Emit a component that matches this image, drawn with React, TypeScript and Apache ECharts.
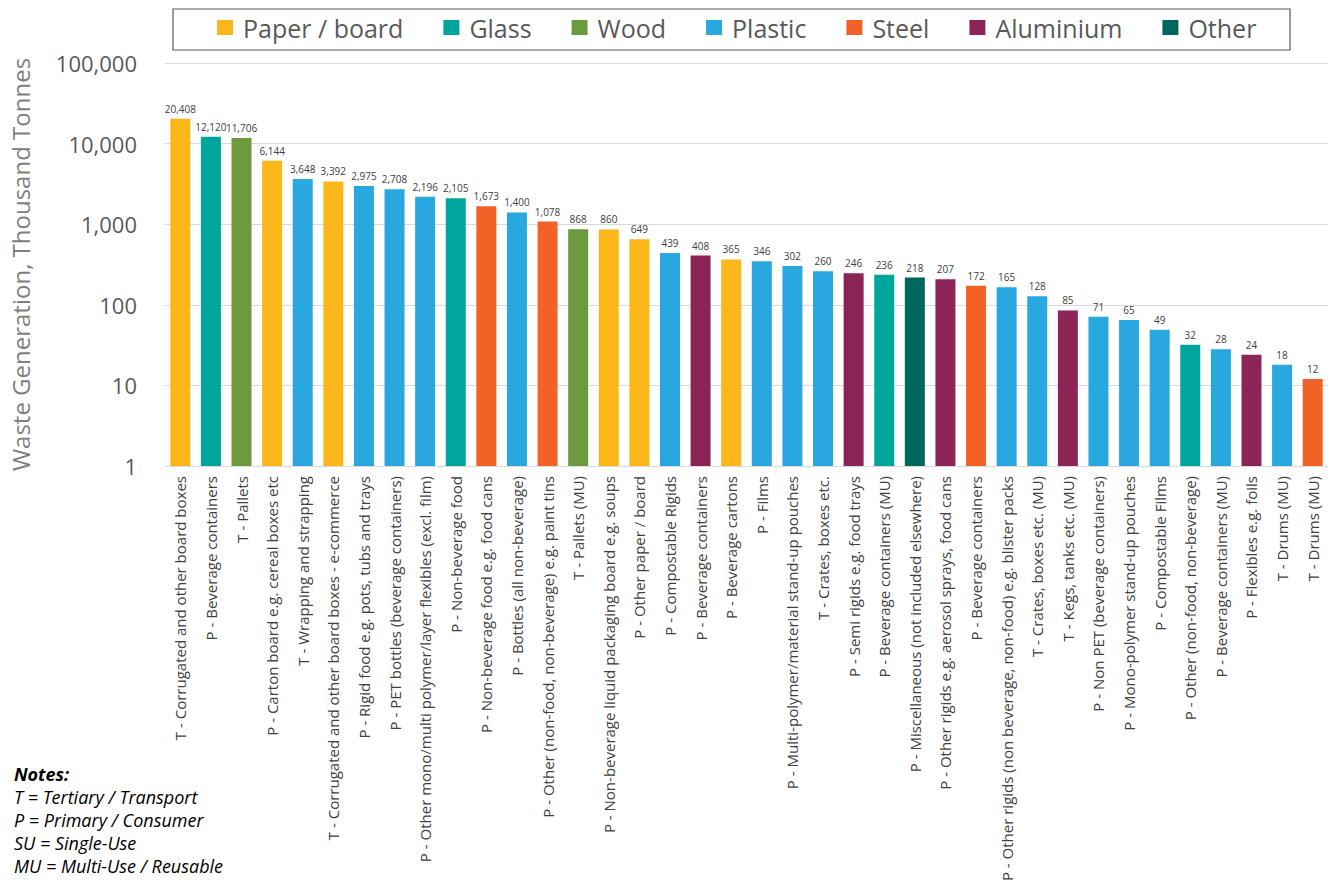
import React, { useEffect, useRef } from "react";
import * as echarts from "echarts";

const categories: string[] = [
  "T - Corrugated and other board boxes",
  "P - Beverage containers",
  "T - Pallets",
  "P - Carton board e.g. cereal boxes etc",
  "T - Wrapping and strapping",
  "T - Corrugated and other board boxes - e-commerce",
  "P - Rigid food e.g. pots, tubs and trays",
  "P - PET bottles (beverage containers)",
  "P - Other mono/multi polymer/layer flexibles (excl. film)",
  "P - Non-beverage food",
  "P - Non-beverage food e.g. food cans",
  "P - Bottles (all non-beverage)",
  "P - Other (non-food, non-beverage) e.g. paint tins",
  "T - Pallets (MU)",
  "P - Non-beverage liquid packaging board e.g. soups",
  "P - Other paper / board",
  "P - Compostable Rigids",
  "P - Beverage containers",
  "P - Beverage cartons",
  "P - Films",
  "P - Multi-polymer/material stand-up pouches",
  "T - Crates, boxes etc.",
  "P - Semi rigids e.g. food trays",
  "P - Beverage containers (MU)",
  "P - Miscellaneous (not included elsewhere)",
  "P - Other rigids e.g. aerosol sprays, food cans",
  "P - Beverage containers",
  "P - Other rigids (non beverage, non-food) e.g. blister packs",
  "T - Crates, boxes etc. (MU)",
  "T - Kegs, tanks etc. (MU)",
  "P - Non PET (beverage containers)",
  "P - Mono-polymer stand-up pouches",
  "P - Compostable Films",
  "P - Other (non-food, non-beverage)",
  "P - Beverage containers (MU)",
  "P - Flexibles e.g. foils",
  "T - Drums (MU)",
  "T - Drums (MU)",
];

const values: number[] = [
  20408, 12120, 11706, 6144, 3648, 3392, 2975, 2708, 2196, 2105, 1673, 1400,
  1078, 868, 860, 649, 439, 408, 365, 346, 302, 260, 246, 236, 218, 207, 172,
  165, 128, 85, 71, 65, 49, 32, 28, 24, 18, 12,
];

const materials: string[] = [
  "Paper / board", "Glass", "Wood", "Paper / board", "Plastic", "Paper / board",
  "Plastic", "Plastic", "Plastic", "Glass", "Steel", "Plastic", "Steel", "Wood",
  "Paper / board", "Paper / board", "Plastic", "Aluminium", "Paper / board",
  "Plastic", "Plastic", "Plastic", "Aluminium", "Glass", "Other", "Aluminium",
  "Steel", "Plastic", "Plastic", "Aluminium", "Plastic", "Plastic", "Plastic",
  "Glass", "Plastic", "Aluminium", "Plastic", "Steel",
];

const materialNames: string[] = [
  "Paper / board", "Glass", "Wood", "Plastic", "Steel", "Aluminium", "Other",
];

const materialColors: string[] = [
  "#FBB71A", "#00A69C", "#6C9A3E", "#29A8E0", "#F26227", "#8C2457", "#00665E",
];

const yTicks: number[] = [1, 10, 100, 1000, 10000, 100000];

const notes: string[] = [
  "T = Tertiary / Transport",
  "P = Primary / Consumer",
  "SU = Single-Use",
  "MU = Multi-Use / Reusable",
];

const fmt = (v: number) => Number(v).toLocaleString("en-US");

export default function App() {
  const ref = useRef<HTMLDivElement>(null);

  useEffect(() => {
    document.body.style.margin = "0";
    if (!ref.current) return;
    const chart = echarts.init(ref.current, null, { renderer: "svg" });

    const series = materialNames.map((name, mi) => ({
      name,
      type: "bar" as const,
      barWidth: 20,
      barGap: "-100%",
      itemStyle: { color: materialColors[mi] },
      label: {
        show: true,
        position: "top" as const,
        distance: 5,
        fontFamily: "Open Sans",
        fontSize: 10,
        color: "#404040",
        formatter: (p: any) => fmt(p.value),
      },
      data: values.map((v, i) => (materials[i] === name ? v : "-")),
    }));

    const option: any = {
      animation: false,
      textStyle: { fontFamily: "Open Sans" },
      grid: { left: 163, right: 2, top: 63, bottom: 425, containLabel: false },
      legend: {
        data: materialNames,
        left: 217,
        top: 15,
        padding: 0,
        itemWidth: 16,
        itemHeight: 15,
        itemGap: 40,
        icon: "rect",
        textStyle: {
          fontFamily: "Open Sans",
          fontSize: 25,
          color: "#595959",
          padding: [0, 0, 0, 5],
        },
      },
      xAxis: {
        type: "category",
        data: categories,
        axisLine: { show: true, lineStyle: { color: "#D9D9D9", width: 1 } },
        axisTick: { show: false },
        axisLabel: {
          interval: 0,
          rotate: 90,
          margin: 10,
          fontFamily: "Open Sans",
          fontSize: 15,
          color: "#404040",
        },
      },
      yAxis: {
        type: "log",
        logBase: 10,
        min: yTicks[0],
        max: yTicks[yTicks.length - 1],
        name: "Waste Generation, Thousand Tonnes",
        nameLocation: "middle",
        nameGap: 133,
        nameTextStyle: { fontFamily: "Open Sans", fontSize: 24, color: "#7F7F7F" },
        axisLine: { show: false },
        axisTick: { show: false },
        splitLine: { show: true, lineStyle: { color: "#D9D9D9", width: 1 } },
        axisLabel: {
          margin: 28,
          fontFamily: "Open Sans",
          fontSize: 22,
          color: "#595959",
          formatter: (v: number) => fmt(v),
        },
      },
      graphic: [
        {
          type: "rect",
          shape: { x: 173, y: 9, width: 1117, height: 41 },
          style: { fill: "none", stroke: "#595959", lineWidth: 1.2 },
          silent: true,
        },
        {
          type: "text",
          left: 14,
          top: 765,
          style: {
            text: "Notes:",
            fontFamily: "Open Sans",
            fontSize: 18,
            fontWeight: "bold",
            fontStyle: "italic",
            fill: "#000",
          },
        },
        ...notes.map((t, i) => ({
          type: "text",
          left: 14,
          top: 788 + i * 23,
          style: {
            text: t,
            fontFamily: "Open Sans",
            fontSize: 18,
            fontStyle: "italic",
            fill: "#000",
          },
        })),
      ],
      series,
    };

    chart.setOption(option);
    return () => chart.dispose();
  }, []);

  return <div ref={ref} style={{ width: 1330, height: 891 }} />;
}
